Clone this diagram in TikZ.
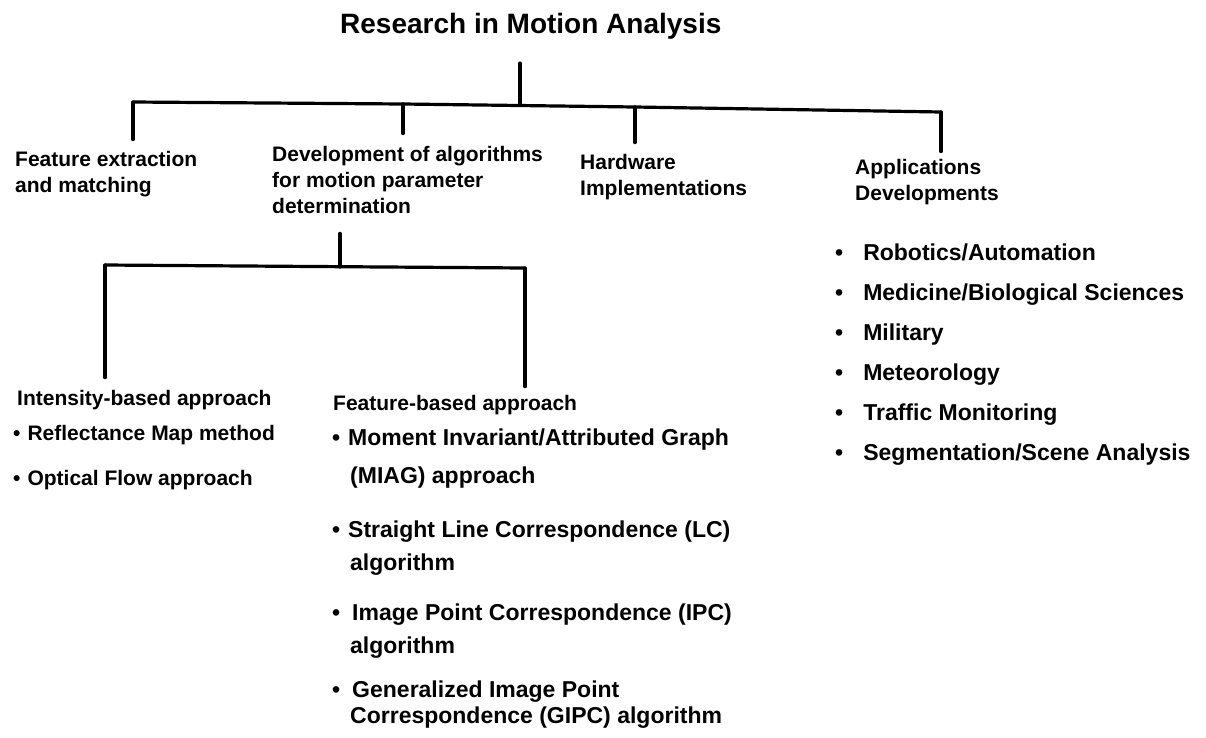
\documentclass[tikz,border=0pt]{standalone}
\usepackage{fontspec}
\setmainfont{Liberation Sans}
\usetikzlibrary{calc}
\tikzset{
  link/.style={line width=3.2pt, line cap=round},
  lbl/.style={anchor=base west, inner sep=0pt, align=left,
    font=\bfseries\fontsize{21}{26}\selectfont},
  ttl/.style={lbl, font=\bfseries\fontsize{28}{32}\selectfont},
  items/.style={lbl, font=\bfseries\fontsize{23}{40}\selectfont},
  fitem/.style={lbl, font=\bfseries\fontsize{23}{33}\selectfont}
}
\newcommand{\bul}[1][7pt]{\textbullet\hspace{#1}}
\newcommand{\cont}{\hspace*{18pt}}

\begin{document}
\begin{tikzpicture}[x=1pt, y=-1pt]
  % x, y in pixels of the 1206 x 737 page, y downwards;
  % a multi-line node sits on the baseline of its last line
  \useasboundingbox (0,0) rectangle (1206,737);

  % title
  \node[ttl] (root) at (340,33) {Research in Motion Analysis};

  % first level
  \node[lbl] (feat) at (15,192) {Feature extraction\\and matching};
  \node[lbl] (algo) at (272,213) {Development of algorithms\\for motion parameter\\determination};
  \node[lbl] (hard) at (580,195) {Hardware\\Implementations};
  \node[lbl] (appl) at (855,200) {Applications\\Developments};

  % application areas
  \node[items] (areas) at (835,460)
    {\bul[20pt]Robotics/Automation\\
     \bul[20pt]Medicine/Biological Sciences\\
     \bul[20pt]Military\\
     \bul[20pt]Meteorology\\
     \bul[20pt]Traffic Monitoring\\
     \bul[20pt]Segmentation/Scene Analysis};

  % main bar
  \coordinate (top) at (520,63);
  \coordinate (mid) at (520,105);
  \coordinate (b1) at (133,102);
  \coordinate (b2) at (403,104);
  \coordinate (b3) at (635,107);
  \coordinate (b4) at (941,112);
  \draw[link] ([yshift=-24pt]root.south -| top) -- (mid);
  \draw[link] (b1) -- (b2) -- (b3) -- (b4);
  \draw[link] (b1) -- ([yshift=11pt]feat.north -| b1);
  \draw[link] (b2) -- ([yshift=12pt]algo.north -| b2);
  \draw[link] (b3) -- ([yshift=11pt]hard.north -| b3);
  \draw[link] (b4) -- ([yshift=7pt]appl.north -| b4);

  % second level
  \node[lbl] (ints) at (17,405) {Intensity-based approach};
  \node[lbl, font=\bfseries\fontsize{21}{45}\selectfont] (ints-list) at (13,485)
    {\bul Reflectance Map method\\\bul Optical Flow approach};
  \node[lbl] (fbas) at (333,410) {Feature-based approach};
  \node[fitem, font=\bfseries\fontsize{23}{38}\selectfont] (miag) at (332,483)
    {\bul[8pt]Moment Invariant/Attributed Graph\\\cont(MIAG) approach};
  \node[fitem] (lc) at (332,570)
    {\bul[8pt]Straight Line Correspondence (LC)\\\cont algorithm};
  \node[fitem] (ipc) at (332,653)
    {\bul[12pt]Image Point Correspondence (IPC)\\\cont algorithm};
  \node[fitem, font=\bfseries\fontsize{23}{26}\selectfont] (gipc) at (332,723)
    {\bul[12pt]Generalized Image Point\\\cont Correspondence (GIPC) algorithm};

  % sub bar
  \coordinate (smid) at (340,267);
  \coordinate (s1) at (105,265);
  \coordinate (s2) at (525,268);
  \draw[link] ([yshift=-20pt]algo.south -| smid) -- (smid);
  \draw[link] (s1) -- (s2);
  \draw[link] (s1) -- ([yshift=12pt]ints.north -| s1);
  \draw[link] (s2) -- ([yshift=8pt]fbas.north -| s2);
\end{tikzpicture}
\end{document}
